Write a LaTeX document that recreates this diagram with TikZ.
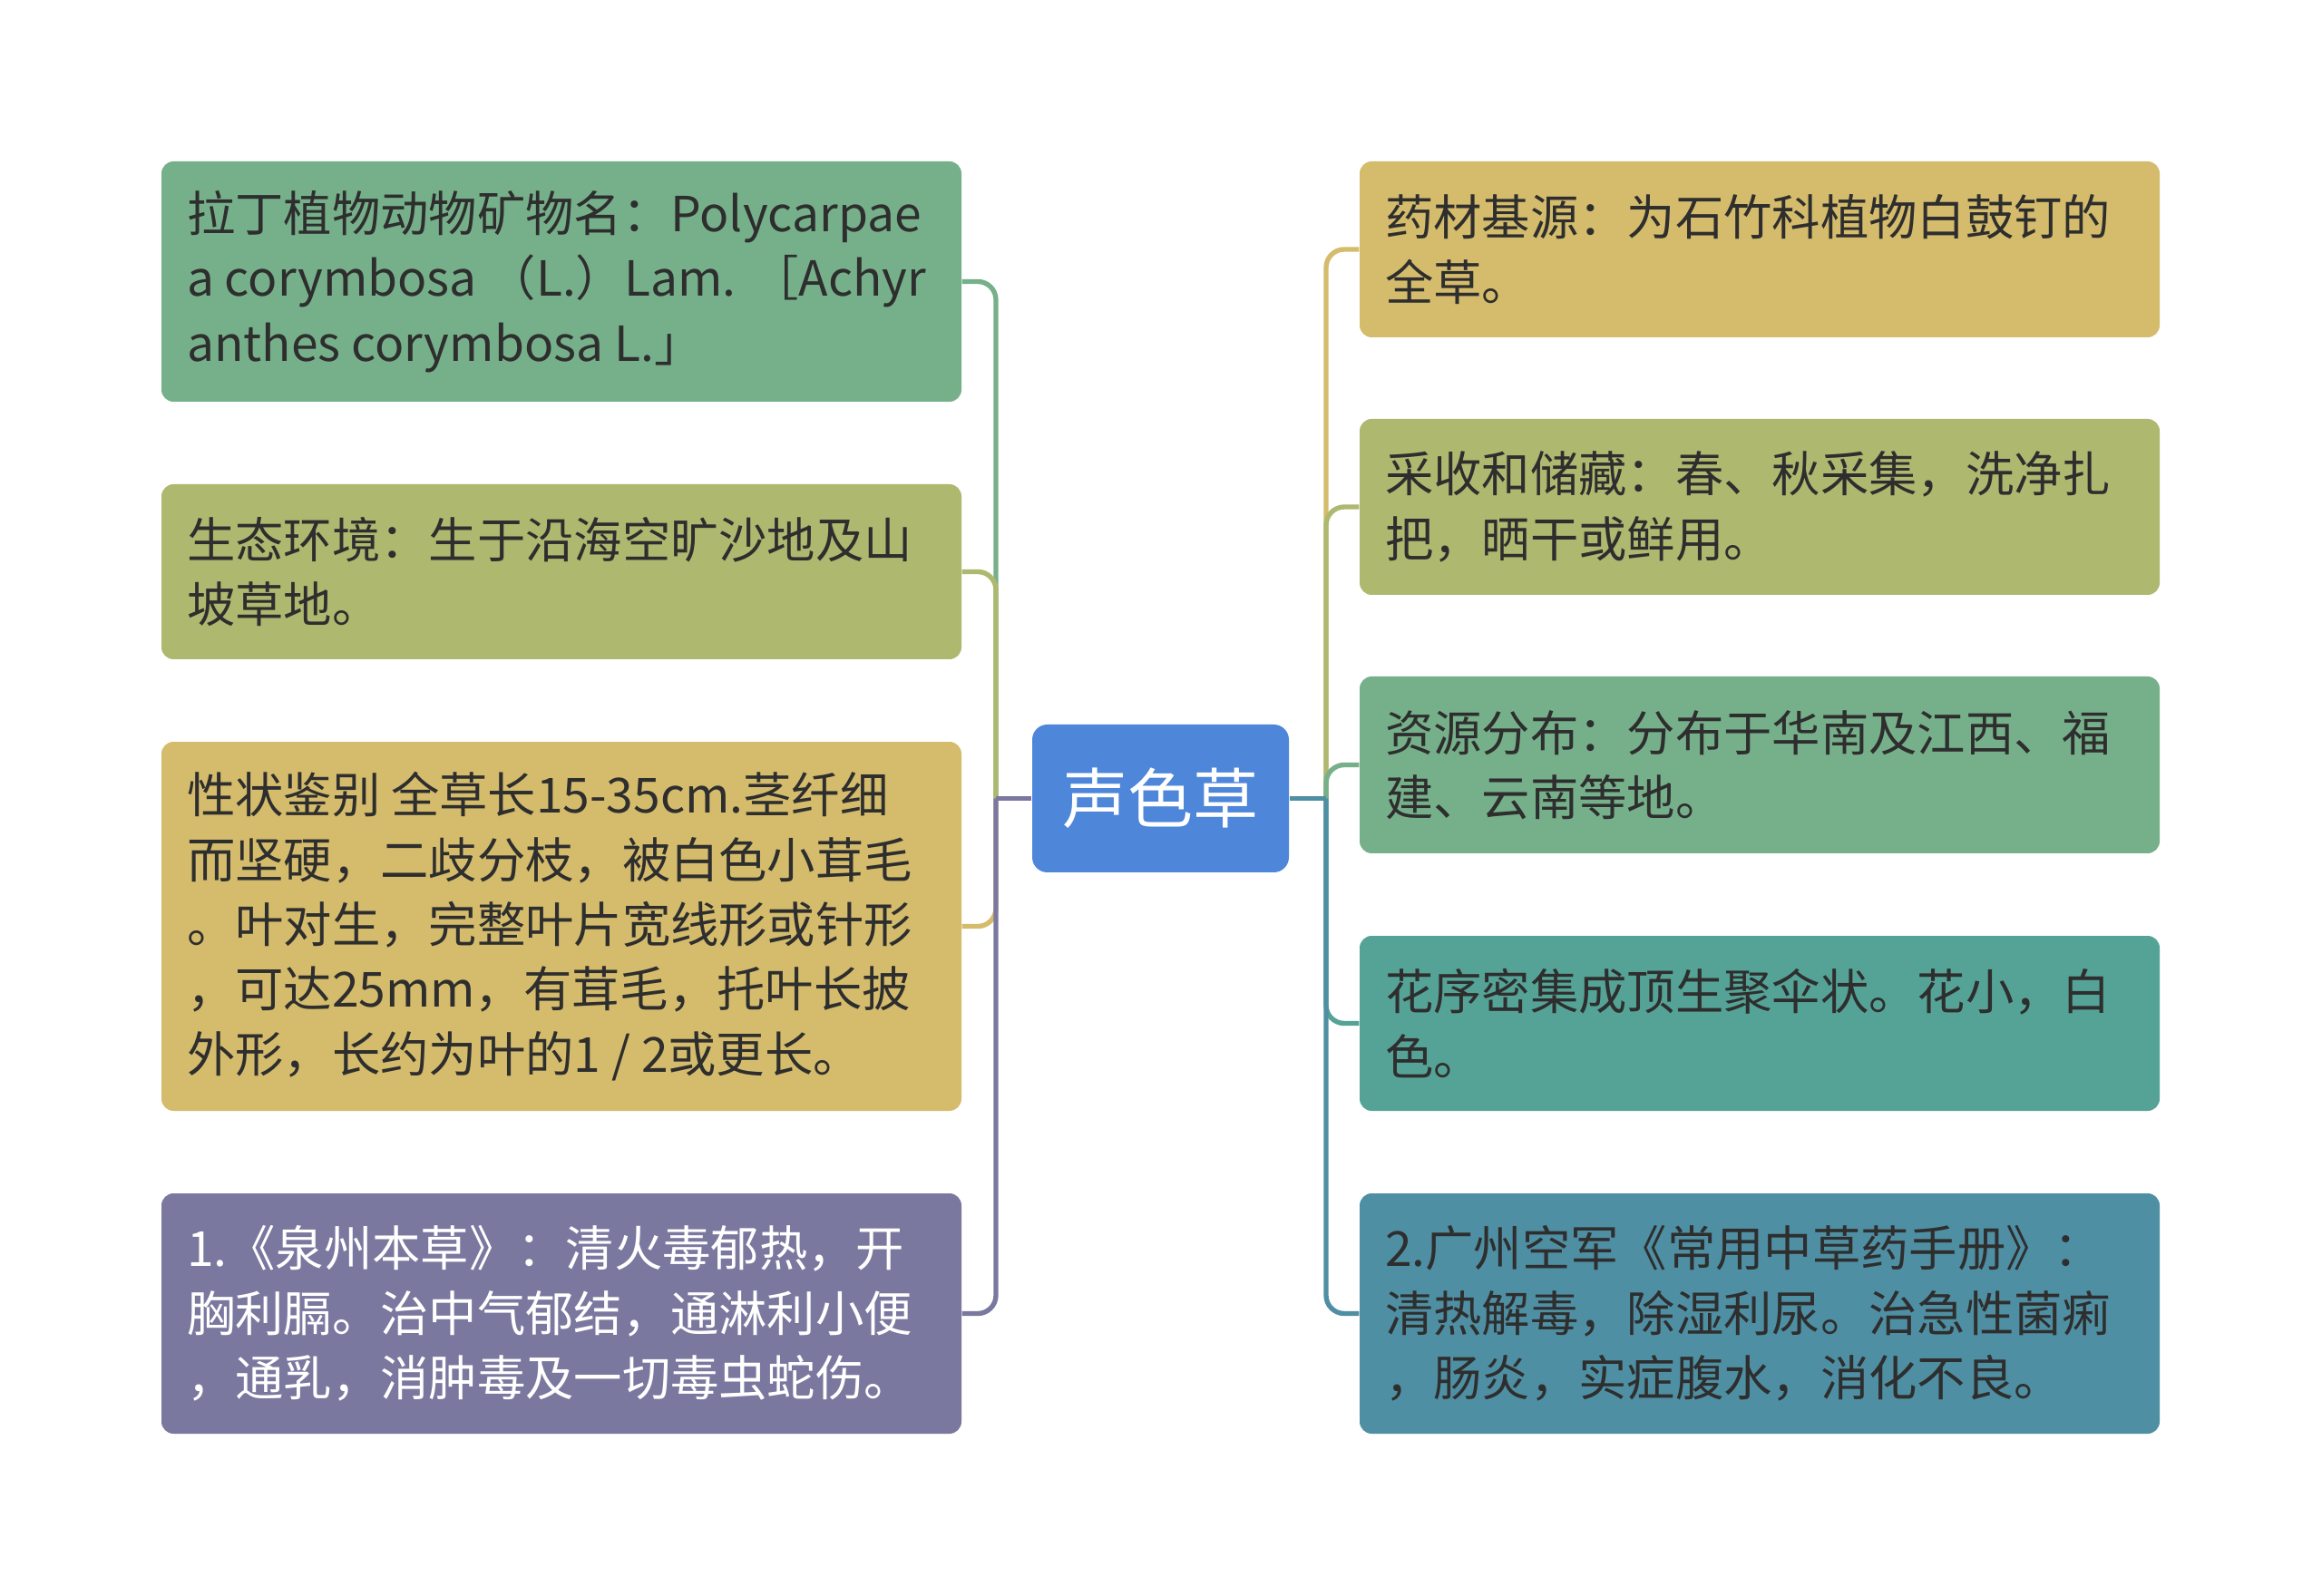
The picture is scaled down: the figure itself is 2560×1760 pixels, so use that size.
\documentclass[tikz,border=0pt]{standalone}
\usepackage{fontspec}
\setmainfont{Noto Sans CJK SC}
\definecolor{cgreen}{HTML}{76B08A}
\definecolor{colive}{HTML}{AEB86F}
\definecolor{cyellow}{HTML}{D4BC6C}
\definecolor{cpurple}{HTML}{7A789F}
\definecolor{cblue}{HTML}{4E86DA}
\definecolor{cteal}{HTML}{55A397}
\definecolor{cpetrol}{HTML}{4F8FA3}
\definecolor{ctext}{HTML}{2E2E2E}
\begin{document}
\begin{tikzpicture}[x=0.3pt,y=-0.3pt,
 box/.style={rounded corners=4pt, minimum width=264.6pt, inner sep=0pt, draw=none},
 txt/.style={anchor=west, align=left, inner sep=0pt, text=ctext, font=\fontsize{16}{21.4}\selectfont},
 conn/.style={line width=1.6pt, rounded corners=6pt}]
\fill[white] (0,0) rectangle (2560,1760);
\useasboundingbox (0,0) rectangle (2560,1760);
% left boxes
\node[box, fill=cgreen, minimum height=79.5pt] (b1) at (619,310.5) {};
\node[txt] (t1) at ([xshift=8.4pt]b1.west) {拉丁植物动物矿物名：Polycarpae\\a corymbosa （L.）Lam. ［Achyr\\anthes corymbosa L.」};
\node[box, fill=colive, minimum height=57.9pt] (b2) at (619,630.5) {};
\node[txt] (t2) at ([xshift=8.4pt]b2.west) {生态环境：生于沿海空旷沙地及山\\坡草地。};
\node[box, fill=cyellow, minimum height=122.1pt] (b3) at (619,1021.5) {};
\node[txt] (t3) at ([xshift=8.4pt]b3.west) {性状鉴别 全草长15-35cm.茎纤细\\而坚硬，二歧分枝，被白色小茸毛\\。叶对生，完整叶片宽线形或针形\\，可达25mm，有茸毛，托叶长披\\外形，长约为叶的1 / 2或更长。};
\node[box, fill=cpurple, minimum height=79.5pt] (b4) at (619,1448.5) {};
\node[txt, text=white] (t4) at ([xshift=8.4pt]b4.west) {1.《泉州本草》：清火毒郁热，开\\胸利膈。治中气郁结，通淋利小便\\，通乳，消肿毒及一切毒虫蛇伤。};
% right boxes
\node[box, fill=cyellow, minimum height=58.2pt] (r1) at (1940,275) {};
\node[txt] (u1) at ([xshift=8.4pt]r1.west) {药材基源：为石竹科植物白鼓钉的\\全草。};
\node[box, fill=colive, minimum height=58.2pt] (r2) at (1940,559) {};
\node[txt] (u2) at ([xshift=8.4pt]r2.west) {采收和储藏：春、秋采集，洗净扎\\把，晒干或鲜用。};
\node[box, fill=cgreen, minimum height=58.5pt] (r3) at (1940,843.5) {};
\node[txt] (u3) at ([xshift=8.4pt]r3.west) {资源分布：分布于华南及江西、福\\建、云南等地。};
\node[box, fill=cteal, minimum height=57.9pt] (r4) at (1940,1128.5) {};
\node[txt] (u4) at ([xshift=8.4pt]r4.west) {花序密集成顶生聚伞状。花小，白\\色。};
\node[box, fill=cpetrol, minimum height=79.5pt] (r5) at (1940,1448.5) {};
\node[txt] (u5) at ([xshift=8.4pt]r5.west) {2.广州空军《常用中草药手册》：\\清热解毒，除湿利尿。治急性菌痢\\，肠炎，实症腹水，消化不良。};
% centre
\node[fill=cblue, rounded corners=5pt, minimum width=84.9pt, minimum height=48.9pt, inner sep=0pt, text=white, font=\fontsize{21.6}{26}\selectfont] (c) at (1279.5,880.5) {声色草};
% connectors
\coordinate (jl) at (1098,880.5);
\coordinate (jr) at (1462,880.5);
\draw[conn, cgreen] (jl) |- (b1.east);
\draw[conn, colive] (jl) |- (b2.east);
\draw[conn, cyellow] (jl) |- (b3.east);
\draw[conn, cpurple] (jl) |- (b4.east);
\draw[line width=1.6pt, cpurple] (c.west) -- (jl);
\draw[conn, cyellow] (jr) |- (r1.west);
\draw[conn, colive] (jr) |- (r2.west);
\draw[conn, cgreen] (jr) |- (r3.west);
\draw[conn, cteal] (jr) |- (r4.west);
\draw[conn, cpetrol] (jr) |- (r5.west);
\draw[line width=1.6pt, cpetrol] (c.east) -- (jr);
\end{tikzpicture}
\end{document}
